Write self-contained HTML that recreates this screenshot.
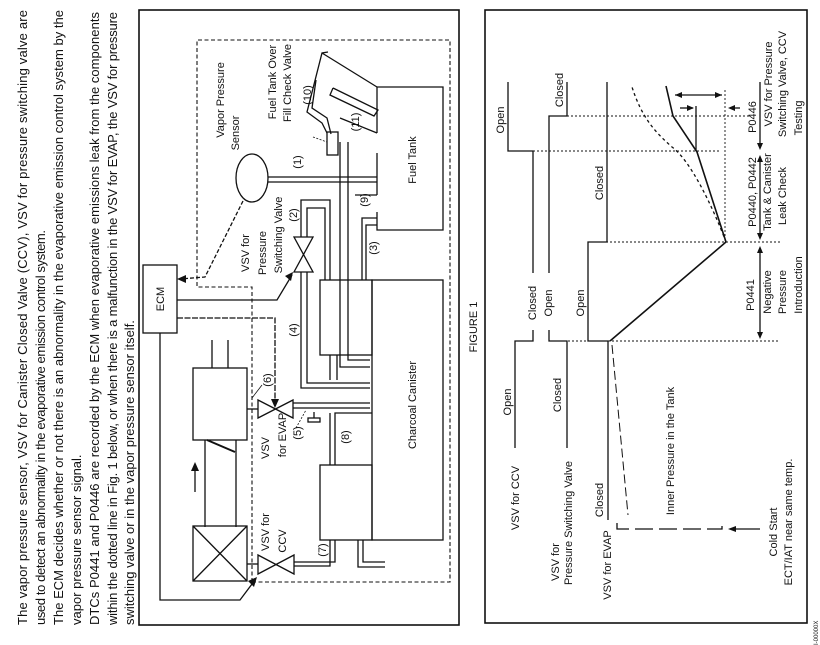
<!DOCTYPE html>
<html><head><meta charset="utf-8"><style>
html,body{margin:0;padding:0;background:#fff}
svg{display:block}
text{font-family:"Liberation Sans",Arial,sans-serif;fill:#111}
</style></head><body>
<svg width="820" height="645" viewBox="0 0 820 645" xmlns="http://www.w3.org/2000/svg">
<g font-size="13">
<text transform="translate(27,625) rotate(-90)" textLength="615" lengthAdjust="spacing">The vapor pressure sensor, VSV for Canister Closed Valve (CCV), VSV for pressure switching valve are</text>
<text transform="translate(45,625) rotate(-90)" textLength="395" lengthAdjust="spacing">used to detect an abnormality in the evaporative emission control system.</text>
<text transform="translate(63,625) rotate(-90)" textLength="615" lengthAdjust="spacing">The ECM decides whether or not there is an abnormality in the evaporative emission control system by the</text>
<text transform="translate(81,625) rotate(-90)">vapor pressure sensor signal.</text>
<text transform="translate(99,625) rotate(-90)" textLength="613" lengthAdjust="spacing">DTCs P0441 and P0446 are recorded by the ECM when evaporative emissions leak from the components</text>
<text transform="translate(117,625) rotate(-90)" textLength="613" lengthAdjust="spacing">within the dotted line in Fig. 1 below, or when there is a malfunction in the VSV for EVAP, the VSV for pressure</text>
<text transform="translate(134,625) rotate(-90)">switching valve or in the vapor pressure sensor itself.</text>
</g>

<!-- TOP PANEL -->
<g fill="none" stroke="#111" stroke-width="1.3">
<rect x="139" y="10" width="320" height="615" stroke-width="1.6"/>
<polyline points="252,582 252,287 197,287 197,40 450,40 450,582 252,582" stroke-dasharray="4,2.5" stroke-width="1.1"/>
<rect x="143" y="265" width="34" height="68"/>
<ellipse cx="252" cy="178" rx="16" ry="24"/>
<polyline points="243,201 205,277 180,279" stroke-dasharray="4,2"/>
<polyline points="177,300 277,300 292,275"/>
<polyline points="177,318 275,318 275,404" stroke-dasharray="6,1.5"/>
<polyline points="160,333 160,600 240,600 255,580"/>
<polyline points="377,133 377,87 443,87 443,230 377,230 377,212"/>
<line x1="377" y1="153" x2="377" y2="195"/>
<polyline points="322,53 377,87"/>
<polyline points="328,52 322,53 307,112 322,123 327,133"/>
<polyline points="316,80 312,108 327,118 331,134"/>
<polyline points="333,88 378,110 374,116 330,95 333,88"/>
<polyline points="340,118 377,133"/>
<rect x="327" y="132" width="11" height="23"/>
<line x1="268" y1="177" x2="377" y2="177"/>
<line x1="268" y1="182" x2="377" y2="182"/>
<polyline points="340,142 340,367 370,367"/>
<polyline points="348,142 348,360 370,360"/>
<line x1="355" y1="195" x2="377" y2="195"/>
<polyline points="362,280 362,218 377,218"/>
<polyline points="366,280 366,225 377,225"/>
<polygon points="294,237 313,237 294,272 313,272"/>
<polyline points="301,237 301,200 330,200 330,280"/>
<polyline points="307,237 307,208 325,208 325,280"/>
<polyline points="301,272 301,388 370,388"/>
<polyline points="307,272 307,383 370,383"/>
<rect x="372" y="280" width="71" height="260"/>
<rect x="320" y="280" width="52" height="75"/>
<line x1="330" y1="355" x2="330" y2="380"/>
<line x1="337" y1="355" x2="337" y2="380"/>
<rect x="320" y="465" width="52" height="75"/>
<polyline points="335,465 335,413 372,413"/>
<line x1="330" y1="413" x2="330" y2="465"/>
<polygon points="258,400 293,418 293,400 258,418"/>
<polyline points="293,403 370,403"/>
<polyline points="293,408 370,408"/>
<line x1="314" y1="412" x2="314" y2="418"/>
<rect x="308" y="418" width="12" height="4"/>
<line x1="247" y1="409" x2="258" y2="409"/>
<rect x="193" y="368" width="54" height="72"/>
<line x1="212" y1="340" x2="212" y2="368"/>
<line x1="228" y1="340" x2="228" y2="368"/>
<line x1="205" y1="440" x2="205" y2="527"/>
<line x1="236" y1="440" x2="236" y2="527"/>
<line x1="207" y1="440" x2="235" y2="452" stroke-width="2"/>
<rect x="193" y="526" width="54" height="55"/>
<line x1="193" y1="526" x2="247" y2="581"/>
<line x1="247" y1="526" x2="193" y2="581"/>
<line x1="195" y1="492" x2="195" y2="466"/>
<polygon points="258,555 294,574 294,555 258,574"/>
<line x1="247" y1="564" x2="258" y2="564"/>
<polyline points="294,562 335,562 335,540"/>
<polyline points="294,566 330,566 330,540"/>
<polyline points="358,540 358,567 385,567"/>
<polyline points="363,540 363,562 385,562"/>
<line x1="296" y1="428" x2="306" y2="410" stroke-dasharray="2,1.5" stroke-width="0.8"/>
<line x1="313" y1="137" x2="327" y2="142" stroke-dasharray="2,1.5" stroke-width="0.8"/>
<line x1="262" y1="385" x2="252" y2="398" stroke-width="0.8"/>
</g>
<g fill="#111">
<polygon points="177,279 186,275 186,283"/>
<polygon points="293,272 285,276 291,281"/>
<polygon points="275,408 271,399 279,399"/>
<polygon points="257,577 248,581 254,587"/>
<polygon points="195,462 191,471 199,471"/>
</g>
<g font-size="11">
<text transform="translate(164,299) rotate(-90)" text-anchor="middle">ECM</text>
<text transform="translate(224,100) rotate(-90)" text-anchor="middle">Vapor Pressure</text>
<text transform="translate(239,133) rotate(-90)" text-anchor="middle">Sensor</text>
<text transform="translate(276,82) rotate(-90)" text-anchor="middle">Fuel Tank Over</text>
<text transform="translate(291,83) rotate(-90)" text-anchor="middle">Fill Check Valve</text>
<text transform="translate(311,95) rotate(-90)" text-anchor="middle">(10)</text>
<text transform="translate(359,122) rotate(-90)" text-anchor="middle">(11)</text>
<text transform="translate(301,162) rotate(-90)" text-anchor="middle">(1)</text>
<text transform="translate(368,200) rotate(-90)" text-anchor="middle">(9)</text>
<text transform="translate(297,215) rotate(-90)" text-anchor="middle">(2)</text>
<text transform="translate(249,253) rotate(-90)" text-anchor="middle">VSV for</text>
<text transform="translate(266,253) rotate(-90)" text-anchor="middle">Pressure</text>
<text transform="translate(282,235) rotate(-90)" text-anchor="middle">Switching Valve</text>
<text transform="translate(377,248) rotate(-90)" text-anchor="middle">(3)</text>
<text transform="translate(297,330) rotate(-90)" text-anchor="middle">(4)</text>
<text transform="translate(271,380) rotate(-90)" text-anchor="middle">(6)</text>
<text transform="translate(301,433) rotate(-90)" text-anchor="middle">(5)</text>
<text transform="translate(269,448) rotate(-90)" text-anchor="middle">VSV</text>
<text transform="translate(286,435) rotate(-90)" text-anchor="middle">for EVAP</text>
<text transform="translate(349,437) rotate(-90)" text-anchor="middle">(8)</text>
<text transform="translate(269,532) rotate(-90)" text-anchor="middle">VSV for</text>
<text transform="translate(286,541) rotate(-90)" text-anchor="middle">CCV</text>
<text transform="translate(326,550) rotate(-90)" text-anchor="middle">(7)</text>
<text transform="translate(416,160) rotate(-90)" text-anchor="middle">Fuel Tank</text>
<text transform="translate(416,405) rotate(-90)" text-anchor="middle">Charcoal Canister</text>
<text transform="translate(477,327) rotate(-90)" text-anchor="middle">FIGURE 1</text>
</g>

<!-- BOTTOM PANEL -->
<g fill="none" stroke="#111" stroke-width="1.3">
<rect x="485" y="10" width="322" height="613" stroke-width="1.6"/>
<polyline points="508,82 508,151 533,151 533,273"/>
<polyline points="533,330 533,341 515,341 515,448"/>
<polyline points="567,82 567,116 549,116 549,273"/>
<polyline points="549,330 549,341 567,341 567,448"/>
<polyline points="607,82 607,242 588,242 588,341 608,341 608,520"/>
<polyline points="610,341 726,242 697,152 673,116 666,86" stroke-width="1.6"/>
<path d="M726,242 C712,205 690,160 672,147 C655,132 642,118 632,87" stroke-dasharray="3,3"/>
<polyline points="612,345 628,515" stroke-dasharray="9,4" stroke-width="1"/>
<g stroke-dasharray="2,2" stroke-width="0.9">
<line x1="568" y1="341" x2="778" y2="341"/>
<line x1="590" y1="242" x2="780" y2="242"/>
<line x1="533" y1="151" x2="720" y2="151"/>
<line x1="567" y1="116" x2="750" y2="116"/>
<line x1="725" y1="90" x2="725" y2="242"/>
</g>
<line x1="675" y1="95" x2="722" y2="95"/>
<line x1="680" y1="108" x2="693" y2="108"/>
<line x1="696" y1="106" x2="696" y2="151"/>
<line x1="730" y1="108" x2="740" y2="108"/>
<line x1="760" y1="82" x2="760" y2="148"/>
<line x1="760" y1="157" x2="760" y2="238"/>
<line x1="760" y1="248" x2="760" y2="337"/>
<polyline points="617,523 617,529 722,529 722,523" stroke-dasharray="18,6"/>
<line x1="735" y1="529" x2="760" y2="529"/>
</g>
<g fill="#111">
<polygon points="675,95 682,92 682,98"/><polygon points="722,95 715,92 715,98"/>
<polygon points="694,108 687,105 687,111"/><polygon points="728,108 735,105 735,111"/>
<polygon points="760,150 757,143 763,143"/><polygon points="760,155 757,162 763,162"/>
<polygon points="760,240 757,233 763,233"/><polygon points="760,246 757,253 763,253"/>
<polygon points="760,339 757,332 763,332"/>
<polygon points="728,529 736,526 736,532"/>
</g>
<g font-size="11">
<text transform="translate(504,120) rotate(-90)" text-anchor="middle">Open</text>
<text transform="translate(536,303) rotate(-90)" text-anchor="middle">Closed</text>
<text transform="translate(511,402) rotate(-90)" text-anchor="middle">Open</text>
<text transform="translate(519,498) rotate(-90)" text-anchor="middle">VSV for CCV</text>
<text transform="translate(563,90) rotate(-90)" text-anchor="middle">Closed</text>
<text transform="translate(552,303) rotate(-90)" text-anchor="middle">Open</text>
<text transform="translate(561,395) rotate(-90)" text-anchor="middle">Closed</text>
<text transform="translate(559,562) rotate(-90)" text-anchor="middle">VSV for</text>
<text transform="translate(572,523) rotate(-90)" text-anchor="middle">Pressure Switching Valve</text>
<text transform="translate(603,183) rotate(-90)" text-anchor="middle">Closed</text>
<text transform="translate(584,303) rotate(-90)" text-anchor="middle">Open</text>
<text transform="translate(603,500) rotate(-90)" text-anchor="middle">Closed</text>
<text transform="translate(611,565) rotate(-90)" text-anchor="middle">VSV for EVAP</text>
<text transform="translate(674,451) rotate(-90)" text-anchor="middle">Inner Pressure in the Tank</text>
<text transform="translate(777,532) rotate(-90)" text-anchor="middle">Cold Start</text>
<text transform="translate(792,522) rotate(-90)" text-anchor="middle">ECT/IAT near same temp.</text>
<text transform="translate(756,117) rotate(-90)" text-anchor="middle">P0446</text>
<text transform="translate(772,84) rotate(-90)" text-anchor="middle">VSV  for  Pressure</text>
<text transform="translate(786,84) rotate(-90)" text-anchor="middle">Switching Valve, CCV</text>
<text transform="translate(802,118) rotate(-90)" text-anchor="middle">Testing</text>
<text transform="translate(756,192) rotate(-90)" text-anchor="middle">P0440, P0442</text>
<text transform="translate(771,192) rotate(-90)" text-anchor="middle">Tank &amp; Canister</text>
<text transform="translate(786,196) rotate(-90)" text-anchor="middle">Leak Check</text>
<text transform="translate(754,295) rotate(-90)" text-anchor="middle">P0441</text>
<text transform="translate(771,292) rotate(-90)" text-anchor="middle">Negative</text>
<text transform="translate(786,292) rotate(-90)" text-anchor="middle">Pressure</text>
<text transform="translate(802,285) rotate(-90)" text-anchor="middle">Introduction</text>
</g>
<text transform="translate(818,645) rotate(-90)" font-size="6" fill="#666">I-00000X</text>
</svg>
</body></html>
